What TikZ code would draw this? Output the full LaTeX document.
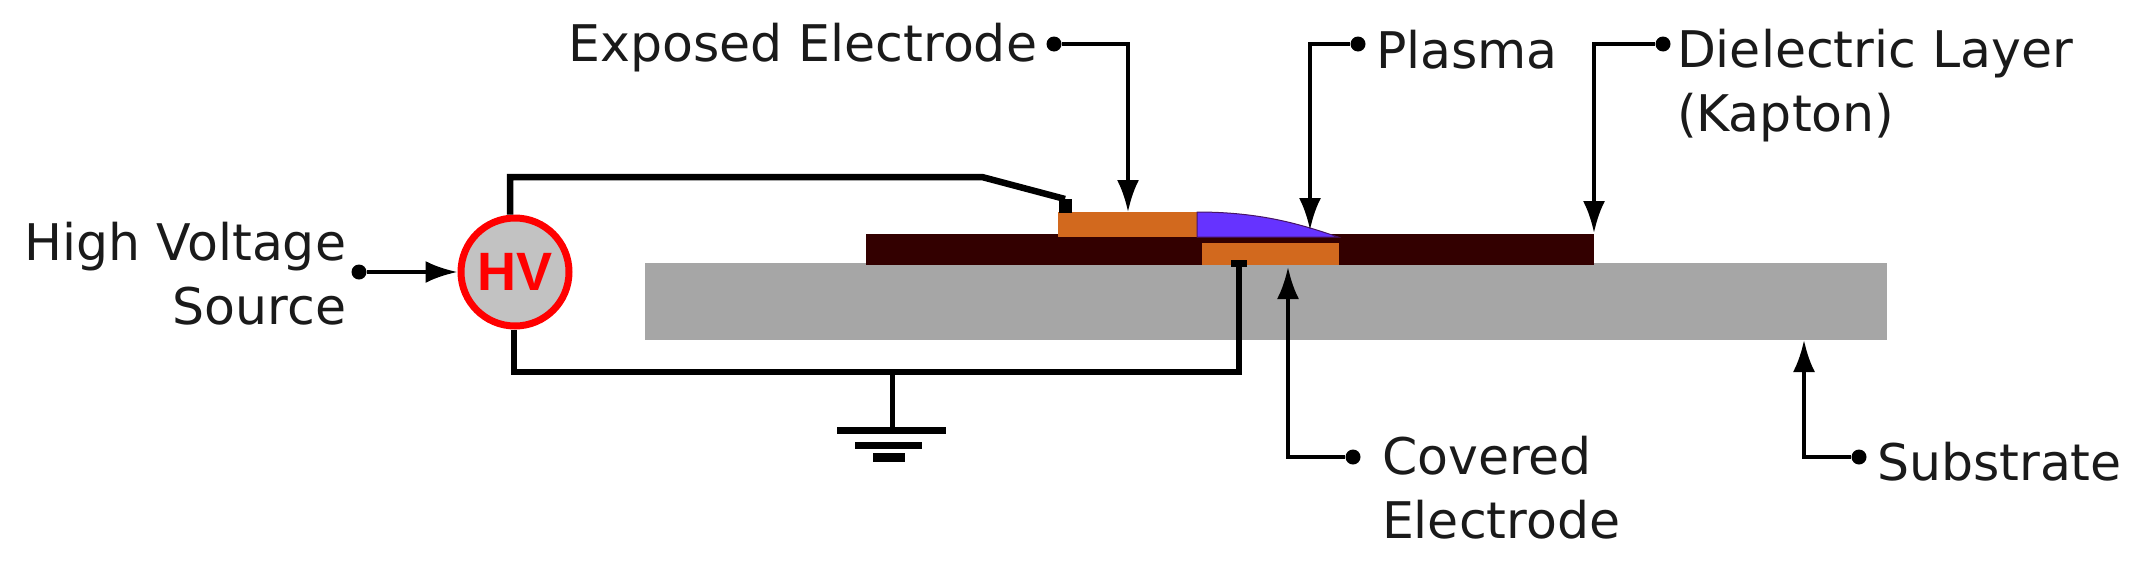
\documentclass[tikz,border=0pt]{standalone}
\usepackage{fontspec}
\setmainfont{DejaVu Sans}
\newfontfamily\hvfont{Liberation Sans}
\usetikzlibrary{arrows.meta}
\definecolor{elec}{HTML}{D2691E}
\definecolor{plasmac}{HTML}{6633FF}
\definecolor{diel}{HTML}{330000}
\definecolor{subs}{HTML}{A6A6A6}
\definecolor{txt}{HTML}{1A1A1A}
\tikzset{
  layer/.style={inner sep=0pt,outer sep=0pt,minimum width=#1},
  wire/.style={line width=6.5pt,black,line join=miter},
  callout/.style={line width=4pt,black,-{Latex[length=32pt,width=22pt]},shorten <=0pt},
  dotnode/.style={circle,fill=black,inner sep=0pt,minimum size=15pt},
  lbl/.style={font=\fontsize{50.5}{64}\selectfont,text=txt,inner sep=0pt,outer sep=0pt},
  gbar/.style={fill=black,inner sep=0pt,outer sep=0pt}
}
\begin{document}
\begin{tikzpicture}[x=1pt,y=-1pt]
\useasboundingbox (0,0) rectangle (2152,571);
% layers
\node[layer=1242pt,minimum height=77pt,fill=subs] (substrate) at (1266,301.5) {};
\node[layer=728pt,minimum height=31pt,fill=diel] (dielectric) at (1230,249.5) {};
\node[layer=139pt,minimum height=25pt,fill=elec] (exposed) at (1127.5,224.5) {};
\node[layer=137pt,minimum height=22pt,fill=elec] (covered) at (1270.5,254) {};
\fill[plasmac,draw=diel!60!plasmac,line width=1pt] (1197,212) .. controls (1260,212) and (1300,224) .. (1338,237) -- (1197,237) -- cycle;
\coordinate (plasmatip) at (1310,230);
% source
\node[circle,draw=red,fill=black!24,line width=7pt,minimum size=108pt,inner sep=0pt,font=\hvfont\bfseries\fontsize{54}{54}\selectfont,text=red] (hv) at (515,272) {HV};
% wires
\coordinate (wa) at (510,177);
\coordinate (wb) at (982,177);
\coordinate (wc) at (1065,207);
\coordinate (wd) at (514,372);
\coordinate (we) at (1239,372);
\coordinate (wf) at (1239,263);
\node[gbar,minimum width=13pt,minimum height=14pt] (exend) at (1065,206) {};
\node[gbar,minimum width=16pt,minimum height=7pt] (covend) at (1239,263.5) {};
\draw[wire] (wa |- hv.north) -- (wa) -- (wb) -- (exend.north);
\draw[wire] (wd |- hv.south) -- (wd) -- (we) -- (covend.south);
% ground
\node[gbar,minimum width=109pt,minimum height=7pt] (g1) at (891.5,430) {};
\node[gbar,minimum width=67pt,minimum height=7pt] (g2) at (888.5,445) {};
\node[gbar,minimum width=32pt,minimum height=9pt] (g3) at (889,457) {};
\coordinate (gt) at (892,372);
\draw[line width=5pt] (gt) -- (gt |- g1.north);
% labels
\node[lbl,anchor=east,align=right] (lhv) at (346,274) {High Voltage\\Source};
\node[lbl,anchor=east] (lexp) at (1037,48) {Exposed Electrode};
\node[lbl,anchor=west] (lpl) at (1376,50) {Plasma};
\node[lbl,anchor=north west,align=left] (ldi) at (1677,29) {Dielectric Layer\\(Kapton)};
\node[lbl,anchor=north west,align=left] (lco) at (1382,436) {Covered\\Electrode};
\node[lbl,anchor=west] (lsu) at (1877,462) {Substrate};
% callouts
\node[dotnode] (dhv) at (359,272) {};
\node[dotnode] (dexp) at (1054,44) {};
\node[dotnode] (dpl) at (1358,44) {};
\node[dotnode] (ddi) at (1663,44) {};
\node[dotnode] (dco) at (1353,457) {};
\node[dotnode] (dsu) at (1859,457) {};
\coordinate (texp) at (1128,212);
\coordinate (tdi) at (1594,233);
\coordinate (tco) at (1288,267);
\coordinate (tsu) at (1804,340);
\draw[callout] (dhv) -- (hv.west);
\draw[callout] (dexp) -| (texp);
\draw[callout] (dpl) -| (plasmatip);
\draw[callout] (ddi) -| (tdi);
\draw[callout] (dco) -| (tco);
\draw[callout] (dsu) -| (tsu);
\end{tikzpicture}
\end{document}
